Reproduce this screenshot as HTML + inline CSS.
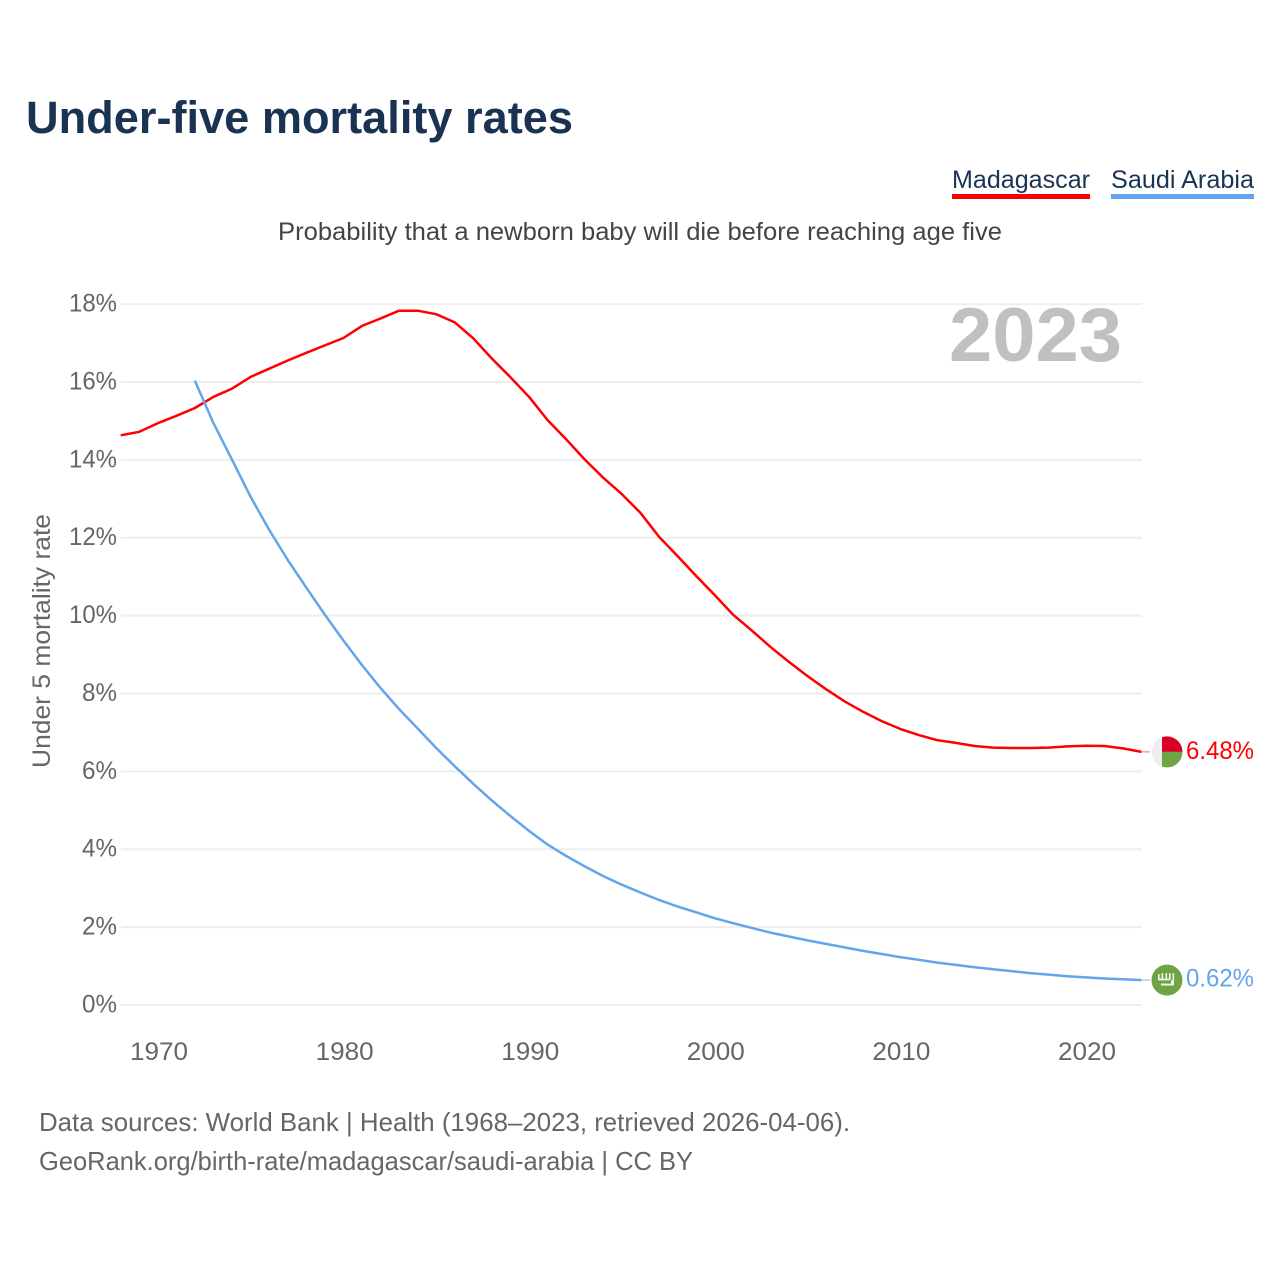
<!DOCTYPE html>
<html lang="en">
<head>
<meta charset="utf-8">
<title>Under-five mortality rates</title>
<style>
html,body{margin:0;padding:0;background:#fff;width:1280px;height:1280px;overflow:hidden}
svg{display:block;font-family:"Liberation Sans",sans-serif}
</style>
</head>
<body>
<svg id="chart" xmlns="http://www.w3.org/2000/svg" width="1280" height="1280" viewBox="0 0 1280 1280">
  <rect width="1280" height="1280" fill="#fff"/>
  <text x="26" y="133" font-size="45" font-weight="700" fill="#1a3353" textLength="547" lengthAdjust="spacingAndGlyphs">Under-five mortality rates</text>

  <g>
    <text x="952" y="188" font-size="25" fill="#1a3353" textLength="138" lengthAdjust="spacingAndGlyphs">Madagascar</text>
    <rect x="952" y="194" width="138" height="5" fill="#ff0000"/>
  </g>
  <g>
    <text x="1111" y="188" font-size="25" fill="#1a3353" textLength="143" lengthAdjust="spacingAndGlyphs">Saudi Arabia</text>
    <rect x="1111" y="194" width="143" height="5" fill="#62a5ec"/>
  </g>

  <text x="278" y="240" font-size="25" fill="#444" textLength="724" lengthAdjust="spacingAndGlyphs">Probability that a newborn baby will die before reaching age five</text>

  <g id="grid"></g>
  <text x="949" y="361" font-size="76" font-weight="700" fill="#c0c0c0" textLength="173" lengthAdjust="spacingAndGlyphs">2023</text>
  <g id="yticks"></g>
  <g id="xticks"></g>
  <text transform="translate(50,768) rotate(-90)" font-size="25" fill="#666" textLength="254" lengthAdjust="spacingAndGlyphs">Under 5 mortality rate</text>

  <polyline id="line-madagascar" fill="none" stroke="#ff0000" stroke-width="2.5" stroke-linejoin="round"/>
  <polyline id="line-saudi" fill="none" stroke="#62a5ec" stroke-width="2.5" stroke-linejoin="round"/>

  <line id="connector-madagascar" x1="1142" x2="1150" stroke="#ff0000" stroke-width="1" opacity=".6"/>
  <line id="connector-saudi" x1="1142" x2="1150" stroke="#62a5ec" stroke-width="1" opacity=".8"/>

  <defs>
    <clipPath id="flag-clip"><circle cx="0" cy="0" r="15.5"/></clipPath>
  </defs>
  <g id="flag-madagascar">
    <g clip-path="url(#flag-clip)">
      <rect x="-16" y="-16" width="32" height="32" fill="#eeeeee"/>
      <rect x="-5" y="-16" width="21" height="16" fill="#d80027"/>
      <rect x="-5" y="0" width="21" height="16" fill="#6da544"/>
    </g>
  </g>
  <g id="flag-saudi">
    <circle r="15.5" fill="#6da544"/>
    <g fill="#f3f3e8">
      <rect x="-9" y="-6" width="1.6" height="5"/>
      <rect x="-5.5" y="-7" width="1.6" height="6"/>
      <rect x="-1.5" y="-7" width="1.6" height="7"/>
      <rect x="2" y="-7" width="1.6" height="7"/>
      <rect x="5.5" y="-7" width="1.6" height="7"/>
      <rect x="-9" y="-1.5" width="11" height="1.8"/>
      <rect x="-6" y="3.5" width="12" height="2"/>
      <rect x="4" y="0" width="3" height="5"/>
    </g>
  </g>
  <text id="value-madagascar" x="1186" font-size="25" fill="#ff0000" textLength="68" lengthAdjust="spacingAndGlyphs"></text>
  <text id="value-saudi" x="1186" font-size="25" fill="#62a5ec" textLength="68" lengthAdjust="spacingAndGlyphs"></text>

  <text x="39" y="1131" font-size="26" fill="#666" textLength="811" lengthAdjust="spacingAndGlyphs">Data sources: World Bank | Health (1968–2023, retrieved 2026-04-06).</text>
  <text x="39" y="1170" font-size="26" fill="#666" textLength="654" lengthAdjust="spacingAndGlyphs">GeoRank.org/birth-rate/madagascar/saudi-arabia | CC BY</text>
</svg>
<script>
const madagascarStart = 1968;
const madagascarValues = [14.63,14.72,14.94,15.13,15.33,15.62,15.83,16.13,16.34,16.55,16.75,16.94,17.13,17.44,17.63,17.83,17.83,17.74,17.53,17.12,16.6,16.12,15.62,15.02,14.53,14.01,13.54,13.12,12.64,12.03,11.53,11.02,10.53,10.02,9.62,9.2,8.81,8.45,8.11,7.8,7.53,7.29,7.09,6.93,6.8,6.73,6.65,6.61,6.6,6.6,6.61,6.64,6.66,6.65,6.59,6.5];
const saudiStart = 1972;
const saudiValues = [16.03,14.94,14.0,13.05,12.2,11.43,10.72,10.02,9.36,8.73,8.14,7.6,7.1,6.6,6.13,5.68,5.25,4.85,4.47,4.12,3.83,3.56,3.31,3.09,2.89,2.7,2.53,2.38,2.23,2.1,1.98,1.86,1.76,1.66,1.57,1.48,1.39,1.31,1.23,1.16,1.09,1.03,0.97,0.92,0.87,0.82,0.78,0.74,0.71,0.68,0.66,0.64];
const yTicks = [0,2,4,6,8,10,12,14,16,18];
const xTicks = [1970,1980,1990,2000,2010,2020];
const madagascarLabel = "6.48%";
const saudiLabel = "0.62%";

const SVGNS = "http://www.w3.org/2000/svg";
function xScale(year){ return 120.7 + (year - 1968) * 18.56; }
function yScale(v){ return 1005 - v * 38.94; }
function points(start, vals){
  return vals.map(function(v,i){ return xScale(start+i).toFixed(1)+","+yScale(v).toFixed(1); }).join(" ");
}
const grid = document.getElementById("grid");
const yG = document.getElementById("yticks");
const xG = document.getElementById("xticks");
yTicks.forEach(function(t){
  const l = document.createElementNS(SVGNS,"line");
  
  
  l.setAttribute("x1",121); l.setAttribute("x2",1142);
  l.setAttribute("y1",yScale(t)); l.setAttribute("y2",yScale(t));
  l.setAttribute("stroke","#eeeeee"); l.setAttribute("stroke-width","2");
  grid.appendChild(l);
  const s = document.createElementNS(SVGNS,"text");
  
  
  s.setAttribute("x",117); s.setAttribute("y",yScale(t)+7.5);
  s.setAttribute("text-anchor","end"); s.setAttribute("font-size","25"); s.setAttribute("fill","#666");
  s.setAttribute("textLength", t>=10 ? 48 : 35); s.setAttribute("lengthAdjust","spacingAndGlyphs");
  s.textContent = t+"%";
  yG.appendChild(s);
});
xTicks.forEach(function(t){
  const s = document.createElementNS(SVGNS,"text");
  
  
  s.setAttribute("x",xScale(t)+1.2); s.setAttribute("y",1060);
  s.setAttribute("text-anchor","middle"); s.setAttribute("font-size","25"); s.setAttribute("fill","#666");
  s.setAttribute("textLength",58); s.setAttribute("lengthAdjust","spacingAndGlyphs");
  s.textContent = t;
  xG.appendChild(s);
});
document.getElementById("line-madagascar").setAttribute("points",points(madagascarStart,madagascarValues));
document.getElementById("line-saudi").setAttribute("points",points(saudiStart,saudiValues));
const mEnd = yScale(madagascarValues[madagascarValues.length-1]);
const sEnd = yScale(saudiValues[saudiValues.length-1]);
[["madagascar",mEnd,madagascarLabel,7],["saudi",sEnd,saudiLabel,6.5]].forEach(function(r){
  const c = document.getElementById("connector-"+r[0]);
  c.setAttribute("y1",r[1]); c.setAttribute("y2",r[1]);
  document.getElementById("flag-"+r[0]).setAttribute("transform","translate(1167,"+r[1]+")");
  const v = document.getElementById("value-"+r[0]);
  v.setAttribute("y",r[1]+r[3]);
  v.textContent = r[2];
});
</script>
</body>
</html>
